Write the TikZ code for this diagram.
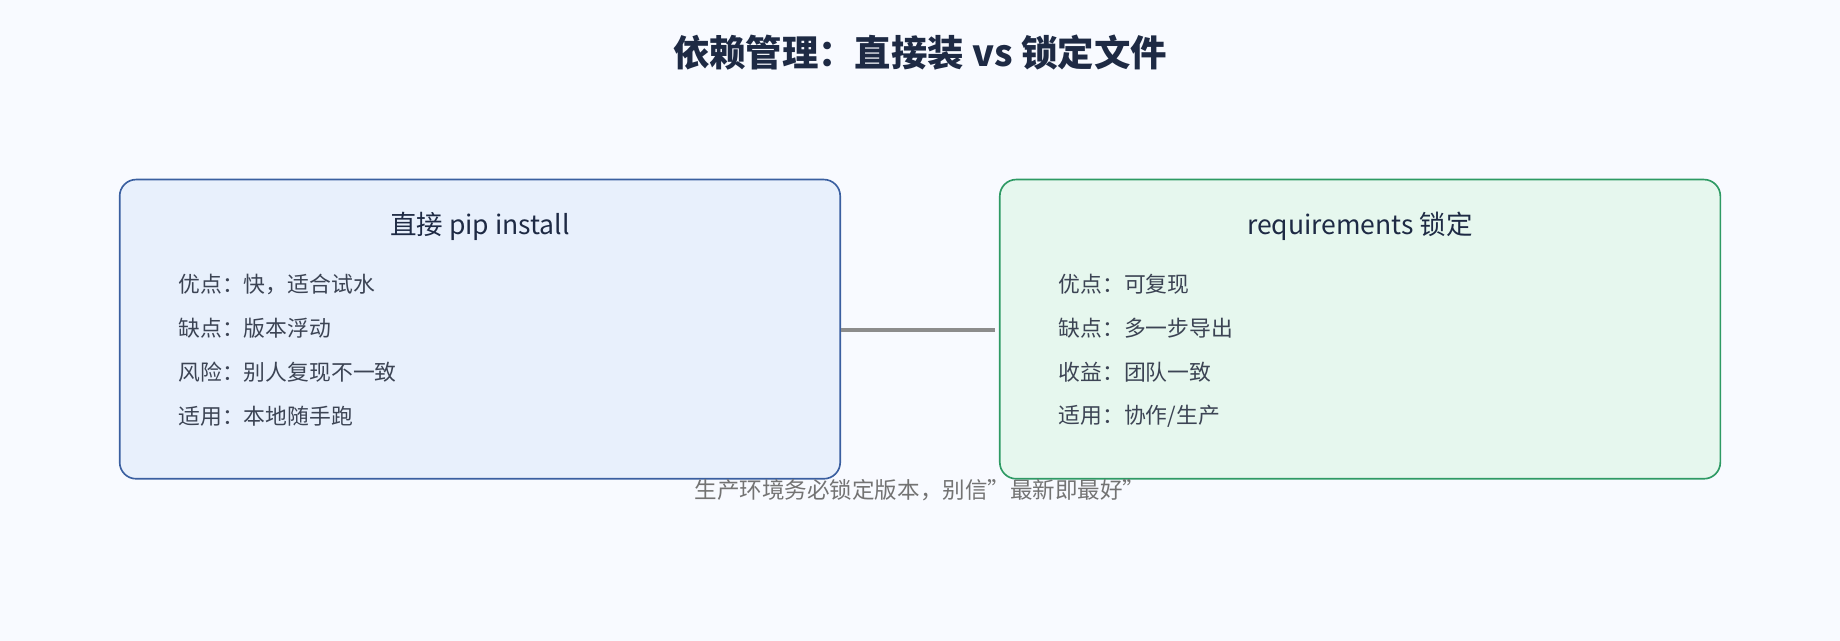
\documentclass[tikz,border=0pt]{standalone}
\usepackage{fontspec}
\setmainfont{Noto Sans CJK SC}
\begin{document}
\begin{tikzpicture}[x=0.5pt,y=-0.5pt,
  box/.style={draw,rounded corners=7pt,line width=0.7pt},
  btitle/.style={font=\fontsize{11.3}{13}\selectfont,text={rgb,255:red,30;green,42;blue,68}}]
\definecolor{bg}{RGB}{248,250,255}
\definecolor{lfill}{RGB}{232,240,252}
\definecolor{ldraw}{RGB}{58,95,160}
\definecolor{rfill}{RGB}{230,247,238}
\definecolor{rdraw}{RGB}{46,154,100}
\definecolor{navy}{RGB}{30,42,68}
\definecolor{itc}{RGB}{60,68,84}
\tikzset{item/.style={anchor=west,font=\fontsize{9.3}{11}\selectfont,text=itc}}
\fill[bg] (0,0) rectangle (1568,546);
\useasboundingbox (0,0) rectangle (1568,546);
\node[font=\bfseries\fontsize{15.5}{17}\selectfont,text=navy] (title) at (784,45) {依赖管理：直接装 vs 锁定文件};
\node[box,fill=lfill,draw=ldraw,minimum width=307pt,minimum height=127.5pt] (L) at (409,280.5) {};
\node[box,fill=rfill,draw=rdraw,minimum width=307pt,minimum height=127.5pt] (R) at (1159,280.5) {};
\node[btitle] (lt) at (409,193) {直接 pip install};
\node[btitle] (rt) at (1159,193) {requirements 锁定};
\node[item] (l1) at (145,242) {优点：快，适合试水};
\node[item] (l2) at (145,280) {缺点：版本浮动};
\node[item] (l3) at (145,317) {风险：别人复现不一致};
\node[item] (l4) at (145,355) {适用：本地随手跑};
\node[item] (r1) at (895,242) {优点：可复现};
\node[item] (r2) at (895,280) {缺点：多一步导出};
\node[item] (r3) at (895,317) {收益：团队一致};
\node[item] (r4) at (895,355) {适用：协作/生产};
\coordinate (re) at (848,281);
\draw[line width=1.5pt,color=black!45] (L.east |- re) -- (re);
\node[font=\fontsize{9.6}{11}\selectfont,text=black!55] (cap) at (784,418) {生产环境务必锁定版本，别信\symbol{34}最新即最好\symbol{34}};
\end{tikzpicture}
\end{document}
